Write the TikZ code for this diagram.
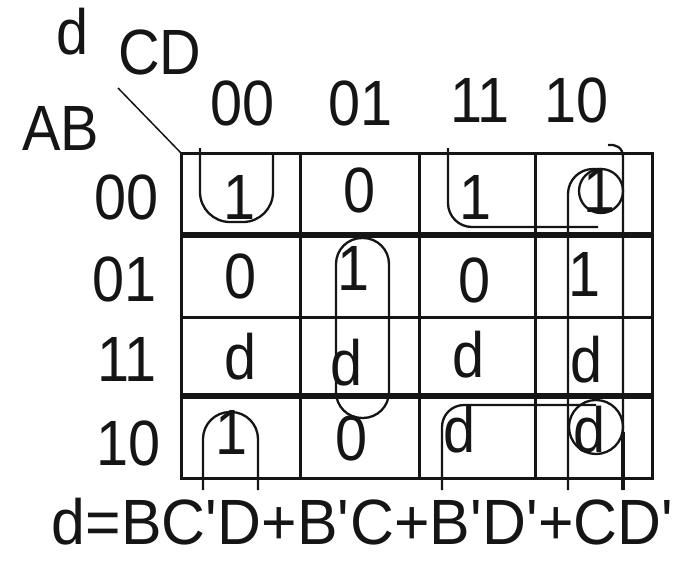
\documentclass[tikz,border=0pt]{standalone}
\usepackage{fontspec}
\usepackage{tikz}
\usetikzlibrary{calc}
\newfontfamily\kmapfont[FakeStretch=0.9]{Liberation Sans}
\newfontfamily\exprfont[FakeStretch=0.95]{Liberation Sans}
\definecolor{Ink}{HTML}{151515}
\newcommand{\pr}{\textquotesingle}

\begin{document}
\begin{tikzpicture}[x=1pt, y=-1pt, font=\kmapfont\fontsize{64}{70}\selectfont,
  gridline/.style={draw=Ink, line width=3pt},
  thickline/.style={draw=Ink, line width=5.5pt},
  loopline/.style={draw=Ink, line width=2.3pt},
  val/.style={inner sep=0pt, text=Ink}]
\fill[white, use as bounding box] (0,0) rectangle (681,563);
\coordinate (nw) at (181,153);
\coordinate (se) at (652,478);
\coordinate (slash) at (118,88);
\draw[gridline] (nw) rectangle (se);
\draw[gridline] (300,153) -- (300,478);
\draw[gridline] (419,153) -- (419,478);
\draw[gridline] (535,153) -- (535,478);
\draw[gridline] (181,317) -- (652,317);
\draw[thickline] (181,235) -- (652,235);
\draw[thickline] (181,396) -- (652,396);
\draw[gridline, line width=1.5pt] (slash) -- (nw);
\node[val] (dlab) at (73,32) {d};
\node[val] (cdlab) at (160,52) {CD};
\node[val] (ablab) at (61,128) {AB};
\node[val] (col00) at (243,103) {00};
\node[val] (col01) at (361,103) {01};
\node[val] (col11) at (480,100) {11};
\node[val] (col10) at (577,100) {10};
\node[val] (row00) at (127,197) {00};
\node[val] (row01) at (125,279) {01};
\node[val] (row11) at (127,359) {11};
\node[val] (row10) at (129,443) {10};
\node[val] (a00) at (240,197) {1};
\node[val] (a01) at (360,190) {0};
\node[val] (a11) at (476,197) {1};
\node[val] (a10) at (600,190) {1};
\node[val] (b00) at (241,276) {0};
\node[val] (b01) at (354,268) {1};
\node[val] (b11) at (475,280) {0};
\node[val] (b10) at (585,274) {1};
\node[val] (c00) at (241,357) {d};
\node[val] (c01) at (347,363) {d};
\node[val] (c11) at (469,355) {d};
\node[val] (c10) at (587,360) {d};
\node[val] (d00) at (232,432) {1};
\node[val] (d01) at (352,438) {0};
\node[val] (d11) at (460,430) {d};
\node[val] (d10) at (590,430) {d};
\draw[loopline, rounded corners=30pt] (200,148) -- (200,222) -- (273,222) -- (273,153);
\draw[loopline, rounded corners=27pt] (203,490) -- (203,412) -- (258,412) -- (258,490);
\draw[loopline, rounded corners=26pt] (336,238) rectangle (389,418);
\draw[loopline, rounded corners=24pt] (448,148) -- (448,227) -- (598,227);
\draw[loopline, rounded corners=22pt] (442,490) -- (442,405) -- (596,405);
\draw[loopline, rounded corners=25pt] (568,490) -- (568,169) -- (601,169);
\draw[loopline] (623,490) -- (623,157) .. controls (623,147) and (615,144) .. (608,145);
\draw[loopline, line width=4pt] (623,432) -- (623,490);
\draw[loopline] (601,191) circle[radius=22pt];
\draw[loopline] (596,427) circle[radius=27pt];
\node[val, font=\exprfont\fontsize{64}{70}\selectfont] (expr) at (363,522) {d=BC\pr D+B\pr C+B\pr D\pr+CD\pr};
\end{tikzpicture}
\end{document}
